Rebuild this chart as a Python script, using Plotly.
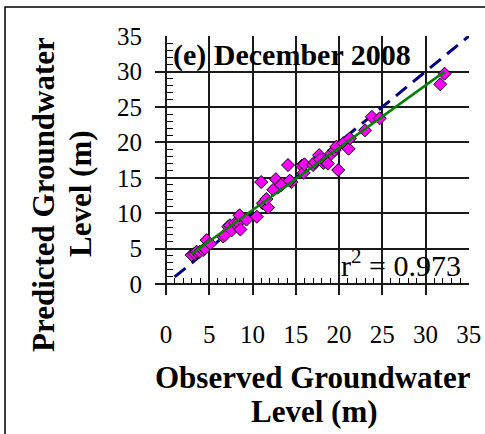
import numpy as np
import plotly.graph_objects as go

# ---- data ----
observed = [2.97, 3.3, 3.54, 3.9, 4.3, 4.5, 4.7, 5.1,
            6.6, 6.8, 7.2, 7.4, 7.6, 8.0, 8.35, 8.5, 8.6, 9.3,
            10.5, 11.0, 11.2, 11.8, 11.6, 12.4, 12.7, 13.4, 13.3,
            14.1, 14.5, 14.3, 15.7, 15.9, 16.0,
            17.0, 17.2, 17.7, 17.8, 18.2, 18.4, 18.7,
            19.1, 19.5, 19.7, 19.9, 20.5, 21.1, 21.25,
            23.0, 23.8, 24.7, 31.7, 32.2]
predicted = [4.09, 4.3, 4.56, 4.56, 4.8, 5.0, 6.2, 5.7,
             6.7, 6.9, 8.1, 8.3, 7.6, 8.6, 8.65, 9.7, 7.7, 9.1,
             9.5, 14.4, 11.4, 10.8, 12.0, 13.3, 14.8, 14.2, 14.0,
             16.8, 14.4, 14.6, 16.7, 15.7, 16.9,
             16.8, 17.2, 18.2, 17.6, 17.1, 17.3, 17.0,
             18.4, 18.9, 19.4, 16.1, 19.9, 19.1, 20.55,
             21.7, 23.6, 23.4, 28.2, 29.7]
one_to_one = [1, 35]
tick_vals = [0, 5, 10, 15, 20, 25, 30, 35]
minor_vals = [v for v in range(1, 35) if v % 5 != 0]
panel_label = "(e) December 2008"
r2_label = "r<sup>2</sup> = 0.973"
x_title = ["Observed Groundwater", "Level (m)"]
y_title = ["Predicted Groundwater", "Level (m)"]

# ---- layout geometry ----
W, H = 485, 434
L, R, T, B = 155, 469, 36, 295
XR = [-1.27, 35.02]
YR = [-1.55, 35.02]

def px(x):
    return (x - L) / (R - L)

def py(y):
    return (B - y) / (B - T)

slope, intercept = np.polyfit(observed, predicted, 1)
fit_x = [min(observed), max(observed)]
fit_y = [slope * v + intercept for v in fit_x]

FONT = "Liberation Serif, Times New Roman, serif"
GRID = "#1a1a1a"

fig = go.Figure()
fig.add_trace(go.Scatter(x=one_to_one, y=one_to_one, mode="lines",
                         line=dict(color="#000080", width=3, dash="14px,8px"),
                         hoverinfo="skip", showlegend=False))
fig.add_trace(go.Scatter(x=observed, y=predicted, mode="markers",
                         marker=dict(symbol="diamond", size=10, color="#FF00FF",
                                     line=dict(color="black", width=1)),
                         showlegend=False))
fig.add_trace(go.Scatter(x=fit_x, y=fit_y, mode="lines",
                         line=dict(color="#008000", width=2.5),
                         hoverinfo="skip", showlegend=False))
# invisible trace to activate the tick overlay axes
fig.add_trace(go.Scatter(x=[None], y=[None], xaxis="x2", yaxis="y2",
                         showlegend=False, hoverinfo="skip"))

axis_common = dict(showgrid=True, gridcolor=GRID, gridwidth=1.5,
                   zeroline=True, zerolinecolor=GRID, zerolinewidth=1.5,
                   showline=False, ticks="", tickmode="array",
                   tickvals=tick_vals,
                   tickfont=dict(family=FONT, size=25, color="black"))

fig.update_layout(
    width=W, height=H,
    margin=dict(l=L, r=W - R, t=T, b=H - B, autoexpand=False),
    paper_bgcolor="white", plot_bgcolor="white",
    font=dict(family=FONT, color="black"),
    xaxis=dict(range=XR, ticklabelstandoff=22, **axis_common),
    yaxis=dict(range=YR, ticklabelstandoff=12, **axis_common),
    xaxis2=dict(range=XR, overlaying="x", anchor="free", position=py(284),
                showgrid=False, zeroline=False, showticklabels=False,
                ticks="", showline=False,
                minor=dict(ticks="inside", tickmode="array", tickvals=minor_vals,
                           ticklen=6, tickcolor="black", tickwidth=1, showgrid=False)),
    yaxis2=dict(range=YR, overlaying="y", anchor="free", position=px(166),
                showgrid=False, zeroline=False, showticklabels=False,
                ticks="", showline=False,
                minor=dict(ticks="inside", tickmode="array", tickvals=minor_vals,
                           ticklen=6, tickcolor="black", tickwidth=1, showgrid=False)),
)

annotations = [
    dict(text="<b>" + panel_label + "</b>", x=0.55, y=(284 - 54.5) / ((284 - 36) / 35),
         xref="x", yref="y",
         xanchor="left", yanchor="middle", showarrow=False,
         font=dict(family=FONT, size=30, color="black")),
    dict(text=r2_label, x=34.3, y=0.0, xref="x", yref="y",
         xanchor="right", yanchor="bottom", showarrow=False,
         font=dict(family=FONT, size=30, color="black")),
    dict(text="<b>" + x_title[0] + "</b>", x=px(313), y=py(377), xref="paper", yref="paper",
         xanchor="center", yanchor="middle", showarrow=False,
         font=dict(family=FONT, size=31, color="black")),
    dict(text="<b>" + x_title[1] + "</b>", x=px(314), y=py(411), xref="paper", yref="paper",
         xanchor="center", yanchor="middle", showarrow=False,
         font=dict(family=FONT, size=31, color="black")),
    dict(text="<b>" + y_title[0] + "</b>", x=px(43), y=py(195), xref="paper", yref="paper",
         xanchor="center", yanchor="middle", textangle=-90, showarrow=False,
         font=dict(family=FONT, size=31, color="black")),
    dict(text="<b>" + y_title[1] + "</b>", x=px(80), y=py(194), xref="paper", yref="paper",
         xanchor="center", yanchor="middle", textangle=-90, showarrow=False,
         font=dict(family=FONT, size=31, color="black")),
]
fig.update_layout(annotations=annotations)

fig.add_shape(type="rect", xref="paper", yref="paper",
              x0=px(5), x1=px(495), y0=py(7), y1=py(445),
              line=dict(color="black", width=1.5), fillcolor="rgba(0,0,0,0)",
              layer="above")

fig.write_html("out.html")
